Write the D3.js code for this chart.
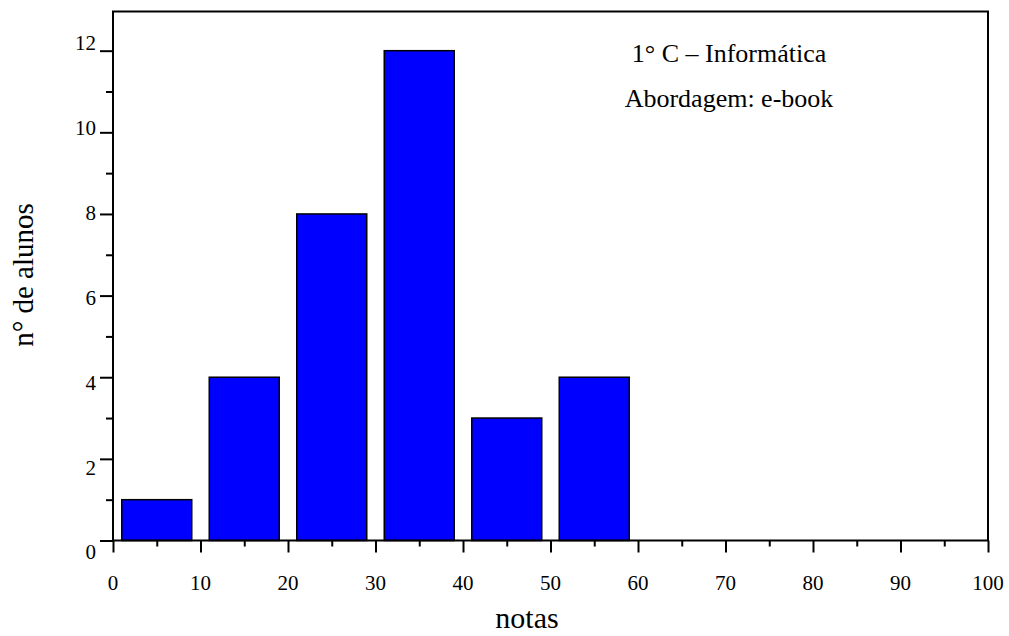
<!DOCTYPE html>
<html lang="pt">
  <head>
    <meta charset="UTF-8">
    <title>1° C – Informática</title>
    <script src="https://d3js.org/d3.v7.min.js"></script>
    <style>
body, html {
  margin: 0;
  padding: 0;
  background: white;
  overflow: hidden;
}
svg {
  display: block;
  font-family: "Liberation Serif", "Times New Roman", serif;
}
    </style>
  </head>
  <body>
    <svg width="1009" height="636"></svg>
    <script>
      // data
      const binStarts = [0, 10, 20, 30, 40, 50];
      const counts = [1, 4, 8, 12, 3, 4];
      const xTicks = [0, 10, 20, 30, 40, 50, 60, 70, 80, 90, 100];
      const yTicks = [0, 2, 4, 6, 8, 10, 12];
      const notes = ["1° C – Informática", "Abordagem: e-book"];

      const svg = d3.select("svg");
      const plotLeft = 113, plotRight = 988, plotTop = 11.5, plotBottom = 540.5;

      const x = d3.scaleLinear().domain([0, 100]).range([plotLeft, plotRight]);
      const y = d3.scaleLinear().domain([0, 12.96]).range([plotBottom, plotTop]);
      // tick labels in the original drift a little against their ticks
      const yLab = d3.scaleLinear().domain([0, 12]).range([552, 43]);

      // bars: 8 units wide, centred in each 10-wide bin
      svg.append("g")
        .selectAll("rect")
        .data(binStarts.map((b, i) => ({b, n: counts[i]})))
        .join("rect")
        .attr("x", d => x(d.b + 1))
        .attr("width", d => x(d.b + 9) - x(d.b + 1))
        .attr("y", d => y(d.n))
        .attr("height", d => y(0) - y(d.n))
        .attr("fill", "#0000ff")
        .attr("stroke", "black")
        .attr("stroke-width", 1.5);

      // frame
      svg.append("rect")
        .attr("x", plotLeft).attr("y", plotTop)
        .attr("width", plotRight - plotLeft).attr("height", plotBottom - plotTop)
        .attr("fill", "none")
        .attr("stroke", "black")
        .attr("stroke-width", 2);

      // x axis ticks
      const xAxis = d3.axisBottom(x).tickValues(d3.range(0, 101, 5))
        .tickSize(0).tickFormat("");
      const gx = svg.append("g").attr("transform", `translate(0,${plotBottom})`).call(xAxis);
      gx.select(".domain").remove();
      gx.selectAll(".tick line")
        .attr("y2", d => d % 10 === 0 ? 12 : 6)
        .attr("stroke", "black").attr("stroke-width", 2);

      svg.append("g").selectAll("text")
        .data(xTicks)
        .join("text")
        .attr("x", d => x(d))
        .attr("y", 590)
        .attr("text-anchor", "middle")
        .attr("font-size", 21)
        .text(d => d);

      // y axis ticks
      const yAxis = d3.axisLeft(y).tickValues(d3.range(0, 13, 1))
        .tickSize(0).tickFormat("");
      const gy = svg.append("g").attr("transform", `translate(${plotLeft},0)`).call(yAxis);
      gy.select(".domain").remove();
      gy.selectAll(".tick line")
        .attr("x2", d => d % 2 === 0 ? -13 : -7)
        .attr("stroke", "black").attr("stroke-width", 2);

      svg.append("g").selectAll("text")
        .data(yTicks)
        .join("text")
        .attr("x", 96)
        .attr("y", d => yLab(d))
        .attr("dy", "0.35em")
        .attr("text-anchor", "end")
        .attr("font-size", 21)
        .text(d => d);

      // axis titles
      svg.append("text")
        .attr("x", 527).attr("y", 628)
        .attr("text-anchor", "middle")
        .attr("font-size", 30)
        .text("notas");

      svg.append("text")
        .attr("transform", "translate(33,275) rotate(-90)")
        .attr("text-anchor", "middle")
        .attr("font-size", 29)
        .text("n° de alunos");

      // annotation
      svg.append("g").selectAll("text")
        .data(notes)
        .join("text")
        .attr("x", 729)
        .attr("y", (d, i) => 62 + i * 45)
        .attr("text-anchor", "middle")
        .attr("font-size", 26)
        .text(d => d);
    </script>
  </body>
</html>
